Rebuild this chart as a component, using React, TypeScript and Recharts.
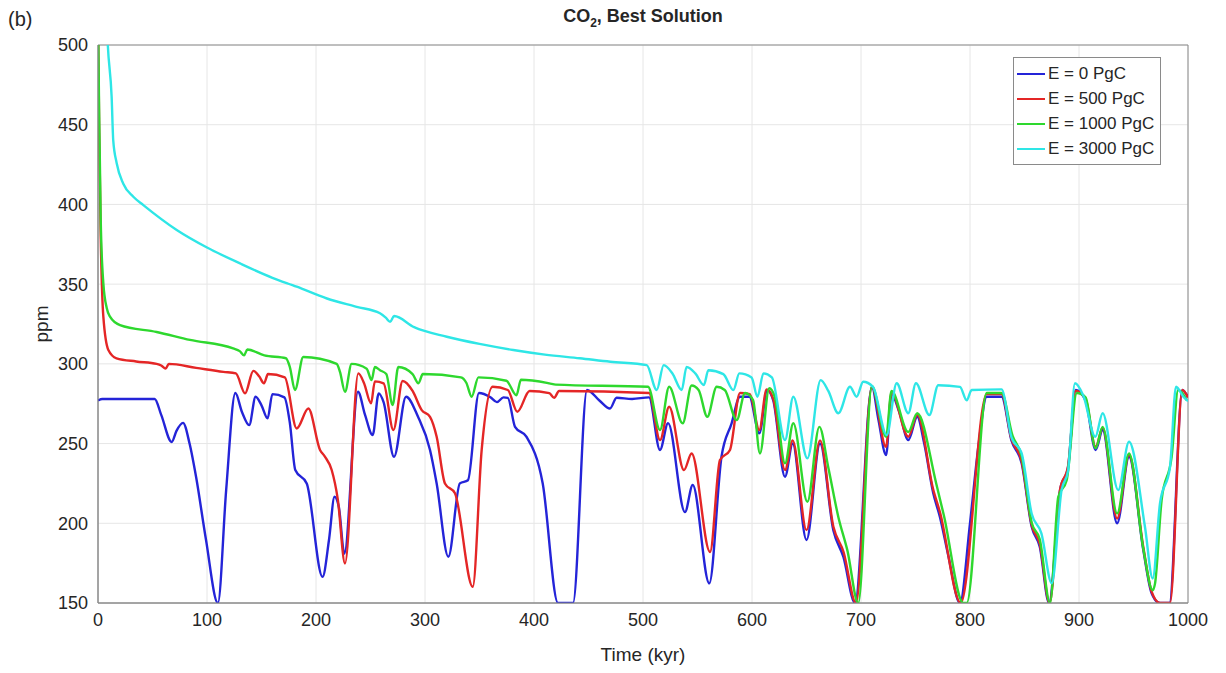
import React from 'react';
import {
  LineChart,
  Line,
  XAxis,
  YAxis,
  CartesianGrid,
  ReferenceArea
} from 'recharts';

// [time (kyr), CO2 (ppm)]
const e0: [number, number][] = [
  [0, 277], [4, 278], [52, 278], [58, 268], [67.6, 251], [72, 258], [78, 263], [84, 250], [90, 229],
  [99, 190], [110, 150], [117.6, 221], [126, 281.7], [132, 270], [138.7, 261.6], [144.6, 279.4],
  [150, 274], [155.6, 265.8], [160, 281], [171, 279], [176, 263], [181, 233.4], [191.5, 225],
  [206, 166.4], [212, 190], [217, 216.6], [221, 210], [226, 181], [238.5, 282.5], [245, 268],
  [252, 255.3], [257.5, 281.5], [262, 276], [271.6, 241.7], [282.6, 279.4], [293.6, 266.8],
  [304.6, 246], [310.7, 225], [321.4, 179], [332, 225], [339.4, 227], [349.5, 281.7], [360, 279],
  [366, 276], [372, 279], [376, 278.7], [382.6, 260.5], [393, 254.3], [408, 225], [422, 150],
  [435.8, 150], [448.6, 283.6], [460, 277], [469.7, 272], [475.8, 278.7], [490, 278], [505.5, 279],
  [515.6, 246], [523, 262.8], [538.5, 207], [545.6, 224], [560.8, 162.3], [572, 241.7],
  [581.3, 262.7], [589, 279.4], [597.6, 279.4], [606.7, 256.4], [614, 283.6], [619.5, 277],
  [630.3, 229.2], [637.3, 250], [650, 189.5], [662.4, 250], [674.6, 195.7], [683.8, 179],
  [694.5, 150], [710, 285.6], [716, 265], [723, 242.8], [728, 281], [735, 270], [743.4, 252.2],
  [751.6, 266.8], [758, 250], [766.3, 218.8], [772.4, 204], [780, 180], [790.8, 150], [800, 200],
  [808, 250], [815.3, 279.4], [829, 279.4], [838, 252], [847.4, 237.6], [856.6, 197.8],
  [864, 185.3], [872.5, 150], [882.6, 220.8], [890, 235.4], [897, 283.6], [906, 277],
  [915.3, 246], [921.7, 258.5], [935, 200], [945.9, 241.7], [959, 183.2], [966.7, 156],
  [974.3, 150], [983, 150], [994.8, 283.6], [1000, 279]
];

const e500: [number, number][] = [
  [0, 520], [1, 450], [2.5, 380], [4.9, 329.6], [9.5, 308.7], [17, 303.5], [35, 301.5],
  [53.8, 300], [58, 299], [62, 297], [65, 300], [90, 297.5], [115, 295], [126.5, 294],
  [134.9, 281.5], [142.5, 295.6], [148, 292], [152.3, 287.8], [156, 293.6], [171.4, 291.5],
  [182.3, 259.5], [193, 272], [203.7, 246], [208, 242], [214.4, 233.4], [220, 215], [226.6, 174.8],
  [238.8, 294], [244, 288], [250.5, 275.2], [254, 289], [262, 287.8], [271, 258.5], [279.5, 289.2],
  [288.6, 283], [297, 271], [304.6, 266.8], [310.7, 254.3], [318.3, 225], [327.5, 218.8],
  [343.8, 160.2], [352, 246], [362, 285.6], [376, 283.6], [384.7, 270], [396, 283], [414, 281.6],
  [418.5, 278.7], [423, 283], [505.5, 281.7], [515.6, 252.2], [524, 273.1], [537.6, 233.4],
  [544.6, 243.8], [561.5, 182], [570.6, 239.6], [579.8, 246], [589, 281.7], [598, 281],
  [606.7, 258.5], [613.4, 284], [619.5, 278], [630.3, 233.4], [637.3, 252], [650, 195.7],
  [662.4, 252], [674.6, 198], [684, 182], [695.4, 150], [710, 285.6], [723, 247.9], [728, 282],
  [743.4, 254.3], [751.6, 268], [766.3, 221], [772.4, 207], [791.5, 150], [815.3, 281],
  [829, 281], [838, 253], [847.4, 239], [856.6, 199], [864, 187], [873, 150], [882.6, 221],
  [890, 236], [897, 283], [906, 278], [915.3, 248], [921.7, 260], [935, 203], [945.9, 243],
  [959, 185], [966.7, 157], [974.3, 150], [983.5, 150], [994.8, 283.6], [1000, 279]
];

const e1000: [number, number][] = [
  [0, 520], [1, 460], [2.5, 390], [4.9, 350.5], [8, 335], [11, 329.6], [20.2, 324.3],
  [53.8, 320], [84.4, 315], [124, 309.7], [130, 308], [134, 305.3], [137, 309], [152.6, 305.3],
  [172.4, 303.5], [176, 298], [180.7, 283.6], [188.3, 304.3], [219, 300], [222, 295],
  [226.6, 282.5], [232.7, 300], [246.5, 297], [251, 289.8], [254, 298], [258.7, 296],
  [264.5, 293.6], [270.3, 274.2], [275.5, 298], [288.6, 293.6], [294, 287.8], [298, 293.6],
  [333, 291.5], [338, 288], [342.8, 279.4], [349, 291.5], [374.7, 289.4], [383.9, 280.3],
  [388, 290], [414, 287.8], [420, 287], [504.6, 285.6], [515.6, 258.5], [524, 285.6],
  [536.4, 262.7], [544.6, 286.4], [551, 283.6], [559, 266.8], [567.6, 285.6], [575, 283.6],
  [586, 264.7], [593.6, 281.7], [601, 277.3], [607.3, 243.8], [615.8, 284.7], [621, 279],
  [630.3, 237.6], [637.9, 262.7], [650.8, 213.5], [661.8, 260.5], [670, 235], [679.2, 204],
  [687.5, 183], [697.5, 150], [710, 286], [723, 254.3], [728, 283], [743.4, 257.3], [751.6, 269],
  [769, 225], [776, 205], [793.9, 150], [797, 150], [815.3, 281.7], [829, 281.7], [839, 255],
  [847.4, 242], [856.6, 200.3], [864, 190], [873.4, 150], [881, 216.6], [888.7, 227],
  [898, 281.7], [906, 279], [915.3, 247], [921.7, 260.5], [935, 206.2], [945.9, 243.8],
  [959, 184], [967.6, 158], [969.7, 162], [975.8, 214.6], [985, 241.7], [991, 283.6], [999, 277]
];

const e3000: [number, number][] = [
  [0, 700], [5, 580], [9, 500], [12.5, 467.6], [14, 440], [17.1, 426], [23.2, 413],
  [32.4, 404.8], [41.6, 399.6], [72.2, 384], [100, 373], [130.3, 363], [160, 354],
  [182.3, 348.4], [210, 341], [237.3, 335.8], [258.7, 331.7], [264, 329], [268, 326.4],
  [271.6, 330], [290, 323], [320, 317], [350, 312.5], [381, 308.7], [410, 305.8], [442, 303.5],
  [470, 301.3], [503.4, 299.2], [512.6, 283.6], [519, 299.2], [527, 294], [535.5, 283.6],
  [540, 298], [548, 294], [555.8, 286.7], [560, 296], [573.7, 293.6], [582.9, 283.6],
  [588.4, 294], [599.6, 291.5], [605, 279.4], [610.5, 294], [618.2, 291.5], [630.3, 252.2],
  [637.9, 279.4], [650.8, 240.7], [663, 289.8], [670, 283], [679.2, 269], [689.9, 285.6],
  [696, 279.4], [702, 288.8], [711, 285.6], [723.6, 255.3], [732.7, 287.8], [743.4, 269],
  [750.4, 287.8], [762.7, 267.9], [770.9, 286.6], [790.8, 285.6], [797, 277.1], [801.5, 283.6],
  [829, 284], [838, 254], [847.4, 243.8], [856.6, 206], [865.5, 193.7], [875, 162.3],
  [884, 220.8], [890, 233], [896.3, 287.8], [904, 280], [915, 254.3], [921.7, 269],
  [936, 220.8], [945.9, 251.1], [960.5, 197.8], [967.6, 165.4], [974.3, 212.5], [983.5, 235.4],
  [989, 285.6], [995.7, 279.4], [1000, 276.6]
];

const seriesNames = ['E = 0 PgC', 'E = 500 PgC', 'E = 1000 PgC', 'E = 3000 PgC'];
const xTicks = [0, 100, 200, 300, 400, 500, 600, 700, 800, 900, 1000];
const yTicks = [150, 200, 250, 300, 350, 400, 450, 500];

const colors = ['#2424d8', '#e42626', '#2ed82e', '#2ee6e6'];
const toRows = (pts: [number, number][]) => pts.map(([t, v]) => ({ t, v }));
const allSeries = [e0, e500, e1000, e3000].map(toRows);

const font = '"Liberation Sans", Arial, Helvetica, sans-serif';

export default function App() {
  return (
    <div style={{ position: 'absolute', left: 0, top: 0, width: 1226, height: 673, background: '#fff', fontFamily: font }}>
      <div style={{ position: 'absolute', left: 8, top: 8, fontSize: 20, color: '#262626' }}>(b)</div>
      <div
        style={{
          position: 'absolute',
          left: 98,
          width: 1090,
          top: 6,
          textAlign: 'center',
          fontSize: 18,
          fontWeight: 'bold',
          color: '#262626'
        }}
      >
        CO<sub style={{ fontSize: 12 }}>2</sub>, Best Solution
      </div>
      <div
        style={{
          position: 'absolute',
          left: 42,
          top: 324,
          transform: 'translate(-50%, -50%) rotate(-90deg)',
          fontSize: 19,
          color: '#262626'
        }}
      >
        ppm
      </div>
      <LineChart width={1226} height={673} margin={{ top: 45, right: 38, bottom: 30, left: 0 }}>
        <CartesianGrid stroke="#e6e6e6" strokeWidth={1} />
        <XAxis
          dataKey="t"
          type="number"
          domain={[0, 1000]}
          ticks={xTicks}
          allowDataOverflow
          height={40}
          tickLine={false}
          axisLine={{ stroke: '#8a8a8a' }}
          tick={{ fontSize: 18, fill: '#262626', fontFamily: font }}
          tickMargin={4}
          label={{ value: 'Time (kyr)', position: 'bottom', offset: 5, fontSize: 19, fill: '#262626' }}
        />
        <YAxis
          type="number"
          domain={[150, 500]}
          ticks={yTicks}
          allowDataOverflow
          width={98}
          tickLine={false}
          axisLine={{ stroke: '#8a8a8a' }}
          tick={{ fontSize: 18, fill: '#262626', fontFamily: font }}
          tickMargin={4}
        />
        <ReferenceArea x1={0} x2={1000} y1={150} y2={500} fill="none" stroke="#8a8a8a" strokeWidth={1} ifOverflow="visible" />
        {allSeries.map((rows, i) => (
          <Line
            key={seriesNames[i]}
            data={rows}
            dataKey="v"
            name={seriesNames[i]}
            type="monotone"
            stroke={colors[i]}
            strokeWidth={2.4}
            dot={false}
            activeDot={false}
            isAnimationActive={false}
          />
        ))}
      </LineChart>
      <div
        style={{
          position: 'absolute',
          left: 1013,
          top: 57,
          border: '1px solid #8a8a8a',
          background: '#fff',
          padding: '3px 6px 3px 3px',
          fontSize: 17,
          color: '#262626',
          lineHeight: '25px'
        }}
      >
        {seriesNames.map((name, i) => (
          <div key={name} style={{ display: 'flex', alignItems: 'center' }}>
            <span style={{ display: 'inline-block', width: 28, height: 2, background: colors[i], marginRight: 3 }} />
            {name}
          </div>
        ))}
      </div>
    </div>
  );
}
